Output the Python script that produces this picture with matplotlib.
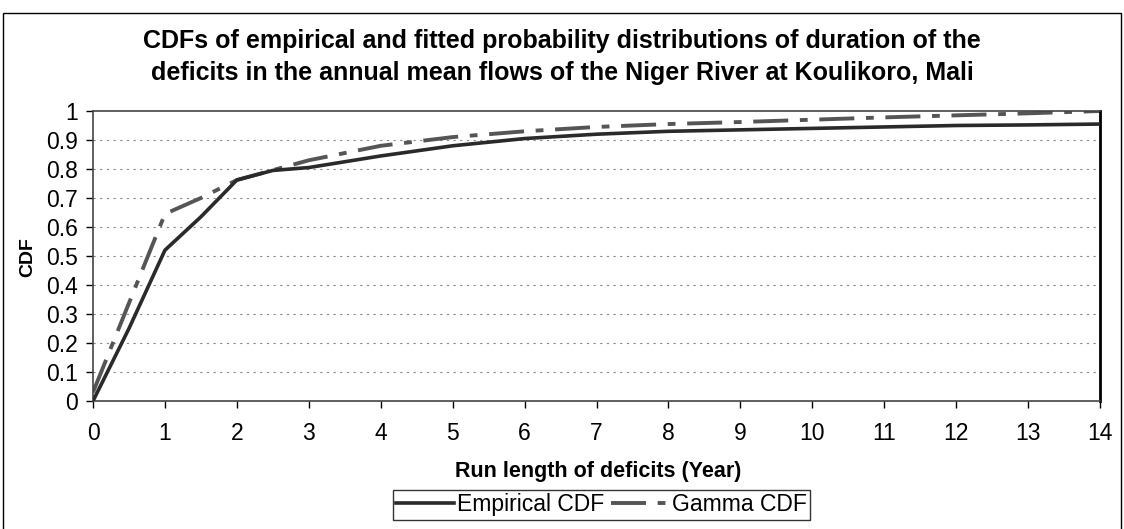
import matplotlib
matplotlib.use("Agg")
import matplotlib.pyplot as plt
from matplotlib.patches import Rectangle
from matplotlib.lines import Line2D

plt.rcParams['font.family'] = ['Liberation Sans', 'DejaVu Sans']

title = ("CDFs of empirical and fitted probability distributions of duration of the\n"
         "deficits in the annual mean flows of the Niger River at Koulikoro, Mali")
x_label = "Run length of deficits (Year)"
y_label = "CDF"

emp_x = [0, 0.5, 1, 1.5, 2, 2.5, 3, 4, 5, 6, 7, 8, 9, 10, 11, 12, 13, 14]
emp_y = [0.0, 0.25, 0.52, 0.635, 0.762, 0.795, 0.805, 0.845, 0.88, 0.905, 0.92,
         0.93, 0.935, 0.94, 0.945, 0.95, 0.952, 0.955]

gam_x = [0, 1, 1.5, 2, 3, 4, 5, 6, 7, 8, 9, 10, 11, 12, 13, 14]
gam_y = [0.03, 0.645, 0.70, 0.762, 0.83, 0.88, 0.91, 0.93, 0.945, 0.955, 0.962,
         0.97, 0.978, 0.985, 0.992, 1.0]

x_ticks = list(range(0, 15))
y_ticks = [0, 0.1, 0.2, 0.3, 0.4, 0.5, 0.6, 0.7, 0.8, 0.9, 1]
y_tick_labels = ["0", "0.1", "0.2", "0.3", "0.4", "0.5", "0.6", "0.7", "0.8", "0.9", "1"]

W, H = 1124, 529
fig = plt.figure(figsize=(W / 100, H / 100), dpi=100)
fig.patch.set_facecolor("white")

# outer chart border
fig.patches.append(Rectangle((3 / W, -0.01), (1121 - 3) / W, 1 - 13 / H + 0.01,
                             transform=fig.transFigure, fill=False,
                             edgecolor="black", linewidth=1.0))

ax = fig.add_axes([93 / W, 1 - 401 / H, (1100 - 93) / W, (401 - 111) / H])
ax.set_xlim(0, 14)
ax.set_ylim(0, 1)

for yv in y_ticks[1:-1]:
    ax.axhline(yv, color="#888888", linewidth=0.8, linestyle=(0, (2, 4)), zorder=1)

emp_line, = ax.plot(emp_x, emp_y, color="#2a2a2a", linewidth=2.6, zorder=3,
                    solid_joinstyle="round")
gam_line, = ax.plot(gam_x, gam_y, color="#555555", linewidth=2.8, zorder=2,
                    dashes=(9, 3, 2, 3))

ax.set_xticks(x_ticks)
ax.set_xticklabels([str(v) for v in x_ticks])
ax.set_yticks(y_ticks)
ax.set_yticklabels(y_tick_labels)
ax.tick_params(axis="both", labelsize=16.5, length=5, width=1, color="black",
               direction="out")
ax.tick_params(axis="x", pad=10)
ax.tick_params(axis="y", pad=6)
for side in ["left", "bottom", "top"]:
    ax.spines[side].set_color("#444444")
    ax.spines[side].set_linewidth(1.2)
ax.spines["right"].set_color("black")
ax.spines["right"].set_linewidth(2.0)

fig.text(562 / W, 1 - 57 / H, title, ha="center", va="center", fontsize=18,
         fontweight="bold", linespacing=1.4)
fig.text(28 / W, 1 - 257 / H, y_label, ha="center", va="center", rotation=90,
         fontsize=14, fontweight="bold")
fig.text(598 / W, 1 - 471 / H, x_label, ha="center", va="center",
         fontsize=15.5, fontweight="bold")

h1 = Line2D([], [], color="#2a2a2a", linewidth=2.6)
h2 = Line2D([], [], color="#555555", linewidth=2.8, dashes=(9, 3, 2, 3))
leg = fig.legend([h1, h2], ["Empirical CDF", "Gamma CDF"], ncol=2,
                 loc="upper left", bbox_to_anchor=(393 / W, 1 - 490 / H),
                 frameon=True, fancybox=False, fontsize=16.5, handlelength=2.5,
                 columnspacing=0.3, handletextpad=0.15, borderpad=0.15,
                 borderaxespad=0)
leg.get_frame().set_edgecolor("black")
leg.get_frame().set_linewidth(1.0)

fig.savefig("out.png", dpi=100, facecolor="white")
